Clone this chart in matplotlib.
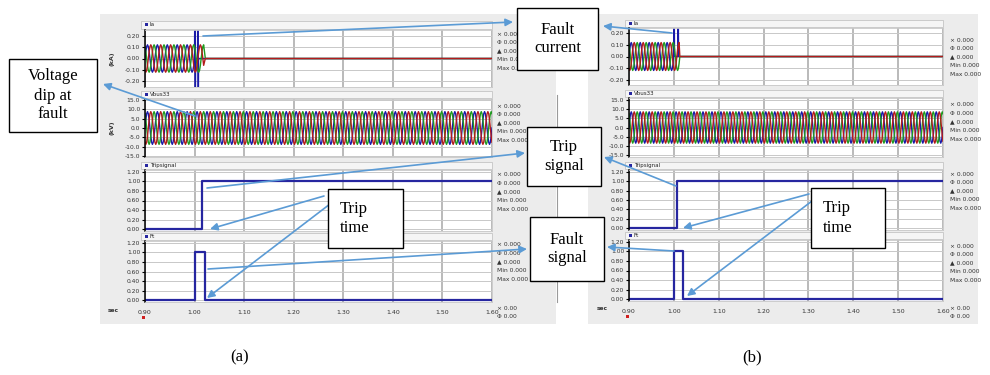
import numpy as np
import matplotlib.pyplot as plt
from matplotlib.patches import Rectangle

# values
t_start, t_end = 0.90, 1.60
freq = 50.0
cycle_shape = [0.0, 0.5, 0.87, 1.0, 0.87, 0.5, 0.0, -0.5, -0.87, -1.0, -0.87, -0.5]
phase_shift = [0, 4, 8]  # samples per phase (blue, green, red)
phase_colors = ['#1a1aa8', '#1f9a1f', '#b31b1b']

# (a)
ia_amp_a = 0.12
v_amp_a = 8.8
ia_cut_a = [1.000, 1.020, 1.020]
ia_spike_t_a = [1.0000, 1.0005, 1.0015, 1.0020, 1.0060, 1.0065, 1.0075, 1.0080]
ia_spike_v_a = [0.05, 0.60, -0.60, 0.0, 0.0, 0.60, -0.60, 0.0]
trip_t_a = [0.90, 1.015, 1.015, 1.60]
trip_v_a = [0, 0, 1, 1]
ft_t_a = [0.90, 1.00, 1.00, 1.022, 1.022, 1.60]
ft_v_a = [0, 0, 1, 1, 0, 0]

# (b)
ia_amp_b = 0.12
v_amp_b = 8.5
ia_cut_b = [1.000, 1.012, 1.012]
ia_spike_t_b = [1.0000, 1.0005, 1.0015, 1.0090, 1.0095, 1.0105]
ia_spike_v_b = [0.08, 0.60, 0.0, 0.0, 0.60, 0.0]
trip_t_b = [0.90, 1.008, 1.008, 1.60]
trip_v_b = [0, 0, 1, 1]
ft_t_b = [0.90, 1.00, 1.00, 1.020, 1.020, 1.60]
ft_v_b = [0, 0, 1, 1, 0, 0]

x_ticks = [0.90, 1.00, 1.10, 1.20, 1.30, 1.40, 1.50, 1.60]
ia_ticks = [-0.20, -0.10, 0.00, 0.10, 0.20]
v_ticks = [-15.0, -10.0, -5.0, 0.0, 5.0, 10.0, 15.0]
sig_ticks = [0.00, 0.20, 0.40, 0.60, 0.80, 1.00, 1.20]
trace_names = ['Ia', 'Vbus33', 'Tripsignal', 'Ft']
unit_labels = ['(kA)', '(kV)', '', '']
meter_labels = ['\u00d7 0.000', '\u03a6 0.000', '\u25b2 0.000', 'Min 0.000', 'Max 0.000']

W, H = 990, 375
BLUE_ARROW = '#5b9bd5'
NAVY = '#2626a0'

n_cyc = int(round((t_end - t_start) * freq))
spc = len(cycle_shape)
t = t_start + np.arange(n_cyc * spc + 1) / (spc * freq)


def wave(amp, shift):
    base = np.tile(np.roll(cycle_shape, -shift), n_cyc + 1)[:len(t)]
    return amp * base


def current_trace(amp, shift, cut, sp_t, sp_v):
    v = wave(amp, shift)
    pre = t < cut
    last = sp_t[-1] if len(sp_t) else cut
    post = t > last
    tt = np.concatenate([t[pre], sp_t, t[post]])
    vv = np.concatenate([v[pre], sp_v, np.zeros(post.sum())])
    return tt, vv


def px(x0, y0, x1, y1):
    return [x0 / W, 1 - y1 / H, (x1 - x0) / W, (y1 - y0) / H]


fig = plt.figure(figsize=(9.9, 3.75), dpi=100)
bg = fig.add_axes([0, 0, 1, 1])
bg.set_xlim(0, W)
bg.set_ylim(H, 0)
bg.axis('off')
bg.set_zorder(0)

fg = fig.add_axes([0, 0, 1, 1])
fg.set_xlim(0, W)
fg.set_ylim(H, 0)
fg.axis('off')
fg.set_zorder(5)

small = dict(fontsize=4.3, color='#333333')


def draw_panel(bgbox, x0, x1, rows, ylims, info_x, info_rows, bottom_y, sec_x, ia, volt, trip, ft, units):
    bx0, by0, bx1, by1 = bgbox
    bg.add_patch(Rectangle((bx0, by0), bx1 - bx0, by1 - by0, fc='#ececec', ec='none'))
    ticks = [ia_ticks, v_ticks, sig_ticks, sig_ticks]
    fmts = ['%.2f', '%.1f', '%.2f', '%.2f']
    axes = []
    for k, ((top, bot, bar), yl) in enumerate(zip(rows, ylims)):
        # title strip
        bg.add_patch(Rectangle((x0 - 4, bar), x1 - x0 + 4, top - bar - 1, fc='#f5f5f5', ec='#c4c4c4', lw=0.6))
        bg.add_patch(Rectangle((x0, bar + 2), 3, 3, fc=NAVY, ec='none'))
        bg.text(x0 + 5, bar + 3.5, trace_names[k], fontsize=4.0, color='#222222', va='center')
        ax = fig.add_axes(px(x0, top, x1, bot))
        ax.set_zorder(1)
        ax.set_facecolor('white')
        ax.set_xlim(t_start, t_end)
        ax.set_ylim(*yl)
        ax.set_xticks(x_ticks)
        ax.set_yticks(ticks[k])
        ax.set_yticklabels([fmts[k] % v for v in ticks[k]])
        ax.set_axisbelow(True)
        ax.grid(axis='x', color='#b4b4b4', lw=1.3)
        ax.grid(axis='y', color='#c8c8c8', lw=0.7)
        for s in ['top', 'right', 'bottom']:
            ax.spines[s].set_color('#c8c8c8')
            ax.spines[s].set_linewidth(0.6)
        ax.spines['left'].set_color('black')
        ax.spines['left'].set_linewidth(1.1)
        ax.tick_params(axis='y', length=2, width=0.8, labelsize=4.3, pad=1.5, labelcolor='#333333')
        if k < 3:
            ax.tick_params(axis='x', length=0, labelbottom=False)
        else:
            ax.set_xticklabels(['%.2f' % v for v in x_ticks])
            ax.tick_params(axis='x', length=0, labelsize=4.5, pad=6, labelcolor='#333333')
        if units[k]:
            bg.text(bx0 + 12, (top + bot) / 2, units[k], rotation=90, ha='center', va='center',
                    fontsize=4.5, fontweight='bold', color='#333333')
        for j, lab in enumerate(meter_labels):
            bg.text(info_x, info_rows[k] + j * 8.6, lab, va='center', **small)
        axes.append(ax)

    for p in range(3):
        tt, vv = current_trace(ia[0], phase_shift[p], ia[1][p], ia[2] if p == 0 else [], ia[3] if p == 0 else [])
        axes[0].plot(tt, vv, color=phase_colors[p], lw=1.0)
        axes[1].plot(t, wave(volt, phase_shift[p]), color=phase_colors[p], lw=1.0)
    axes[2].plot(trip[0], trip[1], color=NAVY, lw=1.6)
    axes[3].plot(ft[0], ft[1], color=NAVY, lw=1.6)

    bg.text(sec_x, bottom_y, 'sec', va='center', fontsize=4.3, color='#333333', fontweight='bold')
    bg.add_patch(Rectangle((x0 - 3, bottom_y + 6), 3, 3, fc='#d02020', ec='none'))
    bg.text(info_x, bottom_y - 1, '\u00d7 0.00', va='center', **small)
    bg.text(info_x, bottom_y + 7, '\u03a6 0.00', va='center', **small)


draw_panel((100, 14, 556, 324), 145, 492,
           [(30, 87, 21), (99, 157, 91), (170, 231, 162), (241, 302, 233)],
           [(-0.25, 0.25), (-15.6, 15.6), (-0.04, 1.24), (-0.04, 1.24)],
           497, [34, 106, 175, 245], 310, 108,
           (ia_amp_a, ia_cut_a, ia_spike_t_a, ia_spike_v_a), v_amp_a,
           (trip_t_a, trip_v_a), (ft_t_a, ft_v_a), unit_labels)

draw_panel((588, 14, 978, 324), 629, 943,
           [(28, 85, 20), (98, 157, 90), (170, 230, 162), (240, 301, 232)],
           [(-0.245, 0.245), (-16.0, 16.0), (-0.04, 1.24), (-0.04, 1.24)],
           950, [40, 105, 174, 246], 309, 597,
           (ia_amp_b, ia_cut_b, ia_spike_t_b, ia_spike_v_b), v_amp_b,
           (trip_t_b, trip_v_b), (ft_t_b, ft_v_b), ['', '', '', ''])

# scroll bar line between panels
bg.plot([557, 557], [95, 302], color='#9a9a9a', lw=0.8)

# annotation arrows (start -> head)
arrows = [
    ((203, 36), (513, 22)),
    ((672, 33), (603, 26)),
    ((195, 116), (103, 84)),
    ((207, 188), (525, 153)),
    ((676, 186), (604, 157)),
    ((324, 196), (210, 229)),
    ((330, 204), (207, 298)),
    ((809, 194), (683, 228)),
    ((812, 201), (687, 296)),
    ((208, 269), (527, 249)),
    ((674, 251), (607, 247)),
]
for start, head in arrows:
    fg.annotate('', xy=head, xytext=start,
                arrowprops=dict(arrowstyle='-|>', color=BLUE_ARROW, lw=1.2,
                                mutation_scale=11, shrinkA=0, shrinkB=0))

serif = dict(fontsize=12, family='Liberation Serif', color='black', linespacing=1.25)
boxes = [
    ((517, 8, 598, 70), 'Fault\ncurrent', 'center'),
    ((527, 127, 601, 186), 'Trip\nsignal', 'center'),
    ((530, 217, 604, 281), 'Fault\nsignal', 'center'),
    ((9, 59, 97, 132), 'Voltage\ndip at\nfault', 'center'),
    ((328, 189, 403, 248), 'Trip\ntime', 'left'),
    ((811, 188, 885, 248), 'Trip\ntime', 'left'),
]
for (x0, y0, x1, y1), txt, al in boxes:
    fg.add_patch(Rectangle((x0, y0), x1 - x0, y1 - y0, fc='white', ec='black', lw=1.0, zorder=3))
    if al == 'center':
        fg.text((x0 + x1) / 2, (y0 + y1) / 2, txt, ha='center', va='center', zorder=4, **serif)
    else:
        fg.text(x0 + 12, (y0 + y1) / 2, txt, ha='left', va='center', zorder=4, **serif)

fg.text(240, 357, '(a)', ha='center', va='center', **serif)
fg.text(752, 357, '(b)', ha='center', va='center', **serif)

fig.savefig('out.png', dpi=100)
